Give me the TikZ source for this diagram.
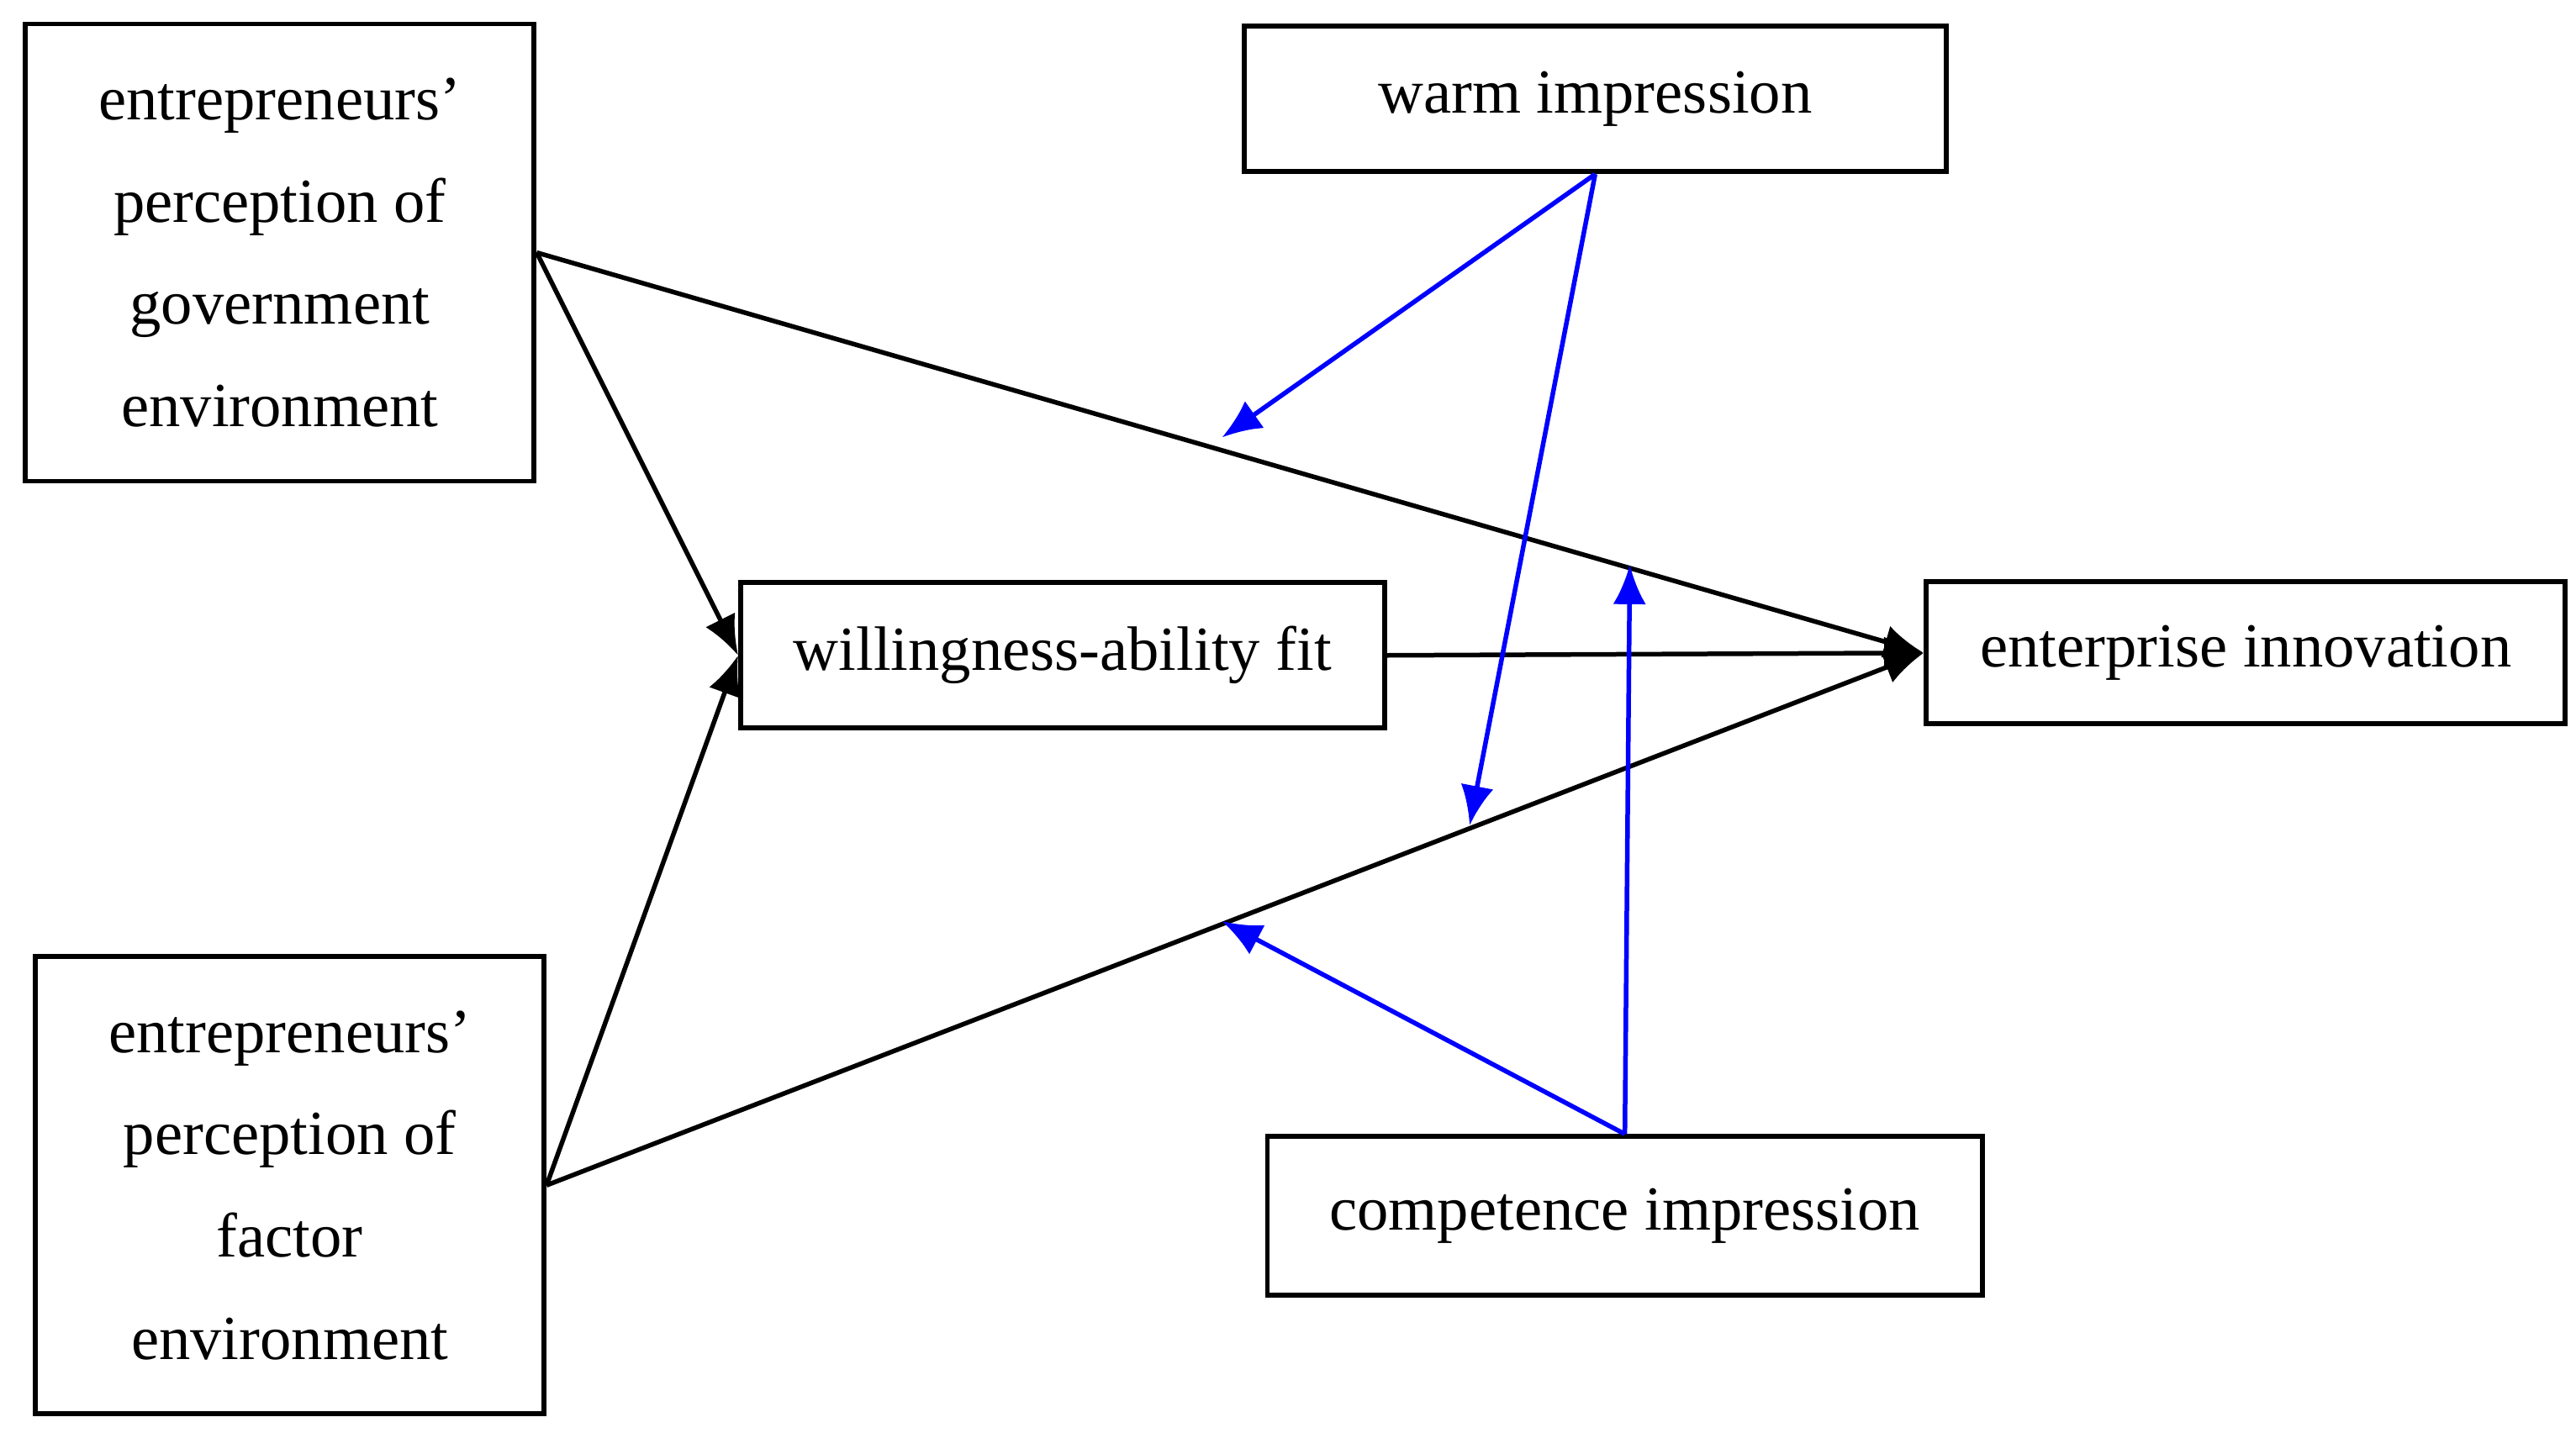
\documentclass[tikz,border=0pt]{standalone}
\usepackage{fontspec}
\setmainfont{Liberation Serif}
\usetikzlibrary{arrows.meta}
\begin{document}
\begin{tikzpicture}[x=0.5pt,y=-0.5pt,
  box/.style={draw,line width=1.5pt,align=center,font=\fontsize{19}{31}\selectfont,inner sep=0pt},
  blk/.style={line width=1.4pt,-{Latex[length=12pt,width=10pt]}},
  blu/.style={line width=1.4pt,blue,-{Latex[length=12pt,width=10pt]}}]
\useasboundingbox (0,0) rectangle (1560,868);
\node[box,minimum width=154pt,minimum height=138.5pt] (gov) at (169.5,153) {entrepreneurs’\\perception of\\government\\environment};
\node[box,minimum width=154pt,minimum height=138.5pt] (fac) at (175.5,718) {entrepreneurs’\\perception of\\factor\\environment};
\node[box,minimum width=212.5pt,minimum height=44pt] (warm) at (966,60) {warm impression};
\node[box,minimum width=195pt,minimum height=44pt] (wil) at (643.5,397) {willingness-ability fit};
\node[box,minimum width=193.5pt,minimum height=43pt] (ent) at (1360,395.5) {enterprise innovation};
\node[box,minimum width=216.5pt,minimum height=48pt] (comp) at (984,736.5) {competence impression};
\draw[blk] (gov.east) -- (ent.west);
\draw[blk] (gov.east) -- (wil.west);
\draw[blk] (fac.east) -- (wil.west);
\draw[blk] (fac.east) -- (ent.west);
\draw[blk] (wil.east) -- (ent.west);
\coordinate (a1) at (740,265);
\coordinate (a2) at (890,500);
\coordinate (a3) at (740,558);
\coordinate (a4) at (987,342);
\draw[blu] (warm.south) -- (a1);
\draw[blu] (warm.south) -- (a2);
\draw[blu] (comp.north) -- (a3);
\draw[blu] (comp.north) -- (a4);
\end{tikzpicture}
\end{document}
